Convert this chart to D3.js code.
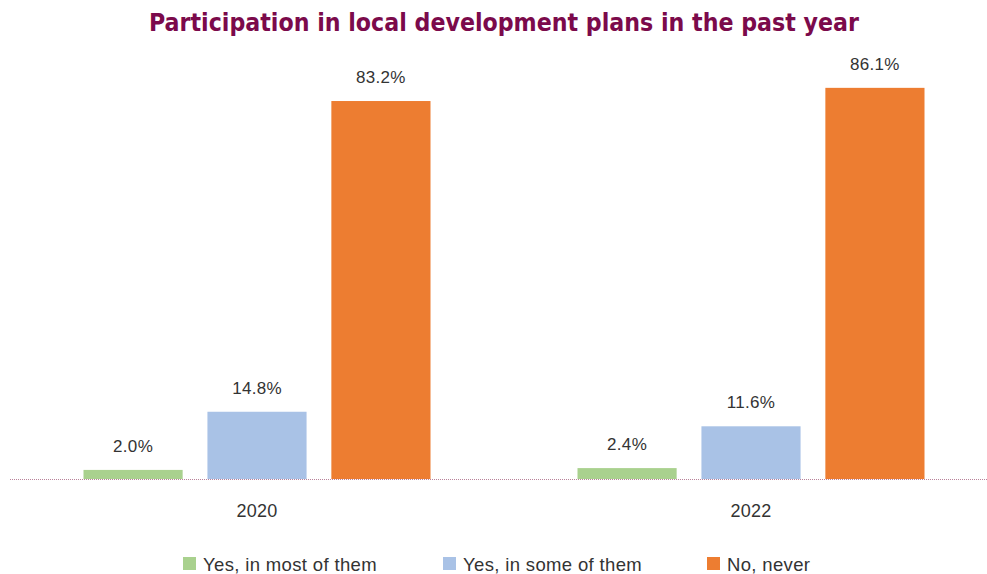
<!DOCTYPE html>
<html>
<head>
<meta charset="utf-8">
<script src="https://cdn.jsdelivr.net/npm/d3@7"></script>
<style>
  html, body { margin: 0; padding: 0; background: #fff; }
  svg { display: block; }
</style>
</head>
<body>
<svg id="chart" width="987" height="574"></svg>
<script>
// Survey data: share of respondents per answer, by year
const years = ["2020", "2022"];
const answers = ["Yes, in most of them", "Yes, in some of them", "No, never"];
const mostValues = [2.0, 2.4];
const someValues = [14.8, 11.6];
const neverValues = [83.2, 86.1];
const colors = ["#a9d18e", "#a9c2e6", "#ed7d31"];

const seriesValues = [mostValues, someValues, neverValues];
const rows = years.map((y, i) => ({
  year: y,
  values: answers.map((a, k) => ({ key: a, idx: k, value: seriesValues[k][i] }))
}));

const svg = d3.select("#chart");
const baseY = 479;
const textFont = "'Liberation Sans', Arial, sans-serif";

const x0 = d3.scaleBand().domain(years).range([10, 998]).paddingInner(0).paddingOuter(0);
const x1 = d3.scaleBand().domain(answers).range([0, 347]).paddingInner(0.2).paddingOuter(0);
const y = d3.scaleLinear().domain([0, 100]).range([baseY, baseY - 454.3]);

// Title
svg.append("text")
  .attr("x", 504).attr("y", 31)
  .attr("text-anchor", "middle")
  .attr("font-family", "'DejaVu Sans Condensed', 'DejaVu Sans', sans-serif")
  .attr("font-weight", "bold")
  .attr("font-size", 25)
  .attr("textLength", 710)
  .attr("lengthAdjust", "spacingAndGlyphs")
  .attr("fill", "#7b0a4b")
  .text("Participation in local development plans in the past year");

// Bars
const groups = svg.selectAll("g.year").data(rows).join("g")
  .attr("class", "year")
  .attr("transform", d => `translate(${x0(d.year) + (x0.bandwidth() - 347) / 2},0)`);

groups.selectAll("rect").data(d => d.values).join("rect")
  .attr("x", d => x1(d.key))
  .attr("width", x1.bandwidth())
  .attr("y", d => y(d.value))
  .attr("height", d => y(0) - y(d.value))
  .attr("fill", d => colors[d.idx]);

groups.selectAll("text.val").data(d => d.values).join("text")
  .attr("class", "val")
  .attr("x", d => x1(d.key) + x1.bandwidth() / 2)
  .attr("y", d => y(d.value) - 18)
  .attr("text-anchor", "middle")
  .attr("font-family", textFont)
  .attr("font-size", 17)
  .attr("letter-spacing", 0.3)
  .attr("fill", "#333")
  .text(d => d.value.toFixed(1) + "%");

// Baseline (dotted)
svg.append("line")
  .attr("x1", 10).attr("x2", 987)
  .attr("y1", baseY + 0.5).attr("y2", baseY + 0.5)
  .attr("stroke", "#b9839a")
  .attr("stroke-width", 1)
  .attr("stroke-dasharray", "1,1");

// Category axis labels
const xAxis = d3.axisBottom(x0).tickSize(0).tickPadding(0);
const axisG = svg.append("g")
  .attr("transform", `translate(0,${baseY})`)
  .call(xAxis);
axisG.select(".domain").remove();
axisG.selectAll("text")
  .attr("dy", 0)
  .attr("y", 38)
  .attr("font-family", textFont)
  .attr("font-size", 18)
  .attr("letter-spacing", 0.3)
  .attr("fill", "#333");

// Legend
const legendX = [183, 443, 707];
const legend = svg.selectAll("g.legend").data(answers).join("g")
  .attr("class", "legend")
  .attr("transform", (d, i) => `translate(${legendX[i]},557)`);
legend.append("rect")
  .attr("width", 13).attr("height", 13)
  .attr("fill", (d, i) => colors[i]);
legend.append("text")
  .attr("x", 20).attr("y", 13.5)
  .attr("font-family", textFont)
  .attr("font-size", 18.5)
  .attr("letter-spacing", 0.35)
  .attr("fill", "#333")
  .text(d => d);
</script>
</body>
</html>
